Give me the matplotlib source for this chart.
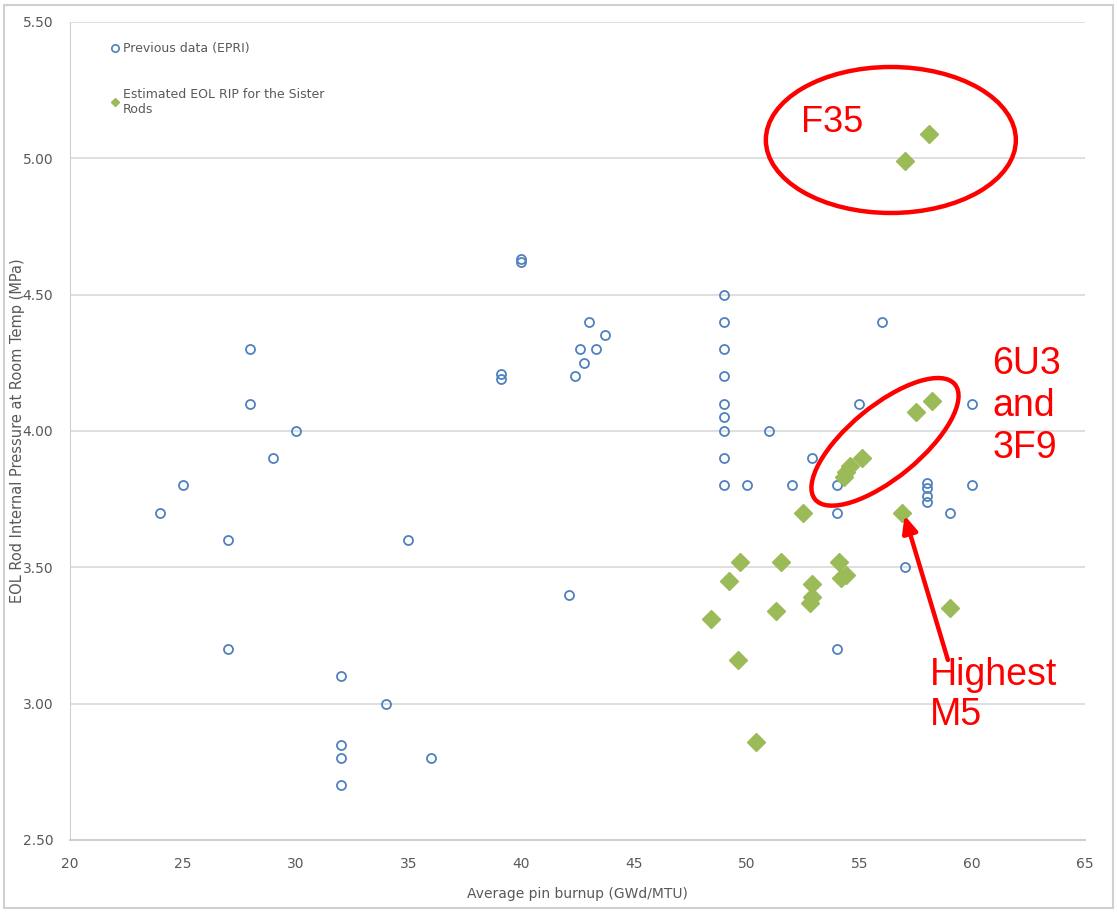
import matplotlib.pyplot as plt
import numpy as np
from matplotlib.lines import Line2D
from matplotlib.patches import Ellipse, Rectangle
from matplotlib.transforms import IdentityTransform

# Previous data (EPRI)
epri_x = [24, 25, 27, 27, 28, 28, 29, 30, 32, 32, 32, 32, 34, 35, 36,
          39.1, 39.1, 40, 40, 42.1, 42.4, 42.6, 42.8, 43.0, 43.3, 43.7,
          49, 49, 49, 49, 49, 49, 49, 49, 49,
          50, 51, 52, 52.9, 54, 54, 54, 55, 56, 57,
          58, 58, 58, 58, 59, 60, 60]
epri_y = [3.70, 3.80, 3.60, 3.20, 4.30, 4.10, 3.90, 4.00, 3.10, 2.85, 2.80, 2.70, 3.00, 3.60, 2.80,
          4.21, 4.19, 4.62, 4.63, 3.40, 4.20, 4.30, 4.25, 4.40, 4.30, 4.35,
          4.50, 4.40, 4.30, 4.20, 4.10, 4.05, 4.00, 3.90, 3.80,
          3.80, 4.00, 3.80, 3.90, 3.80, 3.70, 3.20, 4.10, 4.40, 3.50,
          3.81, 3.79, 3.76, 3.74, 3.70, 4.10, 3.80]

# Estimated EOL RIP for the sister rods
sister_x = [57.0, 58.1, 58.2, 57.5, 55.1, 54.6, 54.4, 54.3, 52.5, 56.9,
            49.7, 51.5, 54.1, 49.2, 52.9, 54.2, 54.4, 52.8, 52.9, 48.4,
            51.3, 59.0, 49.6, 50.4]
sister_y = [4.99, 5.09, 4.11, 4.07, 3.90, 3.87, 3.85, 3.83, 3.70, 3.70,
            3.52, 3.52, 3.52, 3.45, 3.44, 3.46, 3.47, 3.37, 3.39, 3.31,
            3.34, 3.35, 3.16, 2.86]

x_ticks = np.arange(20, 66, 5)
y_ticks = np.arange(2.5, 5.51, 0.5)

plt.rcParams['font.family'] = ['Liberation Sans Narrow', 'DejaVu Sans']

fig = plt.figure(figsize=(11.17, 9.13), dpi=100)
fig.patches.append(Rectangle((0.004, 0.006), 0.992, 0.988, transform=fig.transFigure,
                             fill=False, edgecolor='#d0d0d0', linewidth=1.5))
ax = fig.add_axes([0.0627, 0.080, 0.9087, 0.896])

blue = '#4f81bd'
green = '#9bbb59'
ax.plot(epri_x, epri_y, 'o', markersize=6.5, markerfacecolor='none',
        markeredgecolor=blue, markeredgewidth=1.3, linestyle='none', zorder=3)
ax.plot(sister_x, sister_y, 'D', markersize=9, color=green, linestyle='none', zorder=4)

ax.set_xlim(20, 65)
ax.set_ylim(2.5, 5.5)
ax.set_xticks(x_ticks)
ax.set_yticks(y_ticks)
ax.set_yticklabels([f'{v:.2f}' for v in y_ticks])
ax.tick_params(length=0, labelsize=10, colors='#595959', pad=12)
ax.grid(axis='y', color='#d9d9d9', linewidth=1.2)
ax.set_axisbelow(True)
for s in ['top', 'right']:
    ax.spines[s].set_visible(False)
ax.spines['left'].set_color('#d0d0d0')
ax.spines['bottom'].set_color('#d0d0d0')
ax.spines['bottom'].set_linewidth(1.5)

ax.set_xlabel('Average pin burnup (GWd/MTU)', fontsize=10, color='#595959', labelpad=12)
ax.set_ylabel('EOL Rod Internal Pressure at Room Temp (MPa)', fontsize=10.5, color='#595959')
ax.yaxis.set_label_coords(-0.044, 0.50)

handles = [
    Line2D([], [], marker='o', markersize=5.3, markerfacecolor='none', markeredgecolor=blue,
           markeredgewidth=1.2, linestyle='none'),
    Line2D([], [], marker='D', markersize=4.5, color=green, linestyle='none'),
]
ax.legend(handles, ['Previous data (EPRI)', 'Estimated EOL RIP for the Sister\nRods'],
          loc='upper left', bbox_to_anchor=(0.03, 0.989), frameon=False, fontsize=9,
          labelcolor='#595959', handlelength=0.6, handletextpad=0.3, labelspacing=2.6)

# red annotations
red = '#ff0000'
fig.canvas.draw()
c1 = ax.transData.transform((56.39, 5.067))
ax.add_patch(Ellipse(c1, 250, 146, fill=False, edgecolor=red, linewidth=3.2,
                     transform=IdentityTransform(), zorder=5))
c2 = ax.transData.transform((56.13, 3.96))
ax.add_patch(Ellipse(c2, 181, 72, angle=39.4, fill=False, edgecolor=red, linewidth=3.2,
                     transform=IdentityTransform(), zorder=5))

ax.text(52.4, 5.13, 'F35', color=red, fontsize=26, family=['Liberation Sans', 'DejaVu Sans'],
        va='center', ha='left')
ax.text(60.9, 4.31, '6U3\nand\n3F9', color=red, fontsize=27, family=['Liberation Sans', 'DejaVu Sans'],
        va='top', ha='left', linespacing=1.2)
ax.text(58.1, 3.17, 'Highest\nM5', color=red, fontsize=27, family=['Liberation Sans', 'DejaVu Sans'],
        va='top', ha='left', linespacing=1.15)
ax.annotate('', xy=(57.0, 3.69), xytext=(58.92, 3.16),
            arrowprops=dict(arrowstyle='-|>,head_length=1.0,head_width=0.45', color=red,
                            linewidth=3.2, shrinkA=0, shrinkB=0), zorder=5)

fig.savefig('out.png', dpi=100)
